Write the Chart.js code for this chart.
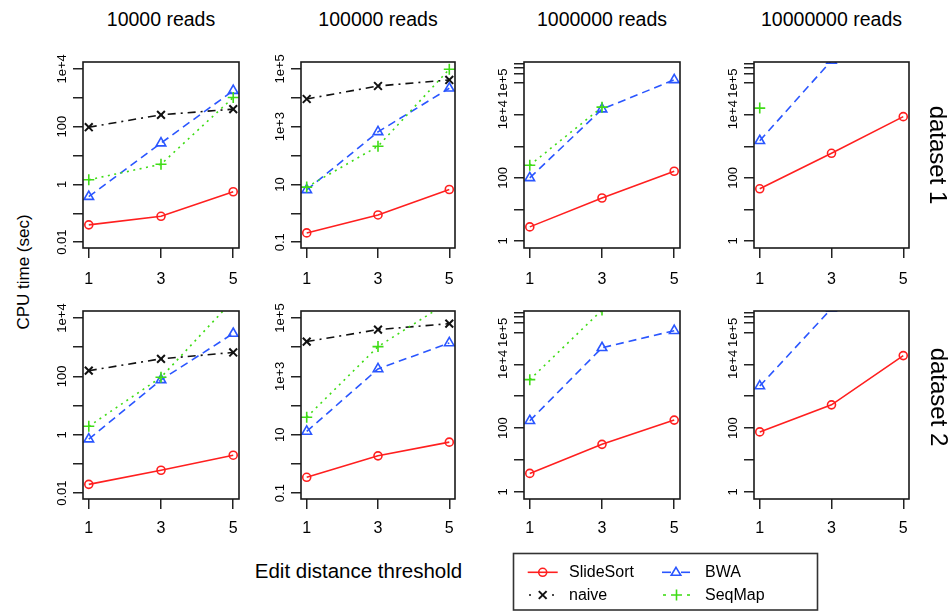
<!DOCTYPE html>
<html><head><meta charset="utf-8">
<script src="https://cdn.jsdelivr.net/npm/chart.js@4.4.1/dist/chart.umd.min.js"></script>
<style>
html,body{margin:0;padding:0;background:#fff;}
body{width:951px;height:612px;position:relative;overflow:hidden;font-family:"Liberation Sans",Arial,sans-serif;color:#000;}
canvas{position:absolute;}
.lbl{position:absolute;white-space:nowrap;line-height:1;transform:translate(-50%,-50%);}
.lg{position:absolute;white-space:nowrap;line-height:1;transform:translateY(-50%);font-size:16px;}
</style></head><body>
<script>
// ---------------- data ----------------
const thresholds = [1, 3, 5];
const readCounts = ["10000 reads", "100000 reads", "1000000 reads", "10000000 reads"];
const datasetNames = ["dataset 1", "dataset 2"];
const methodNames = ["SlideSort", "naive", "BWA", "SeqMap"];

// CPU time (sec); one entry per read count, values at thresholds 1, 3, 5
const slideSort1 = [[0.04, 0.079, 0.56], [0.21, 0.88, 6.7], [2.8, 23, 162], [45, 600, 8700]];
const naive1     = [[96, 258, 405], [9100, 25700, 41500], [null, null, null], [null, null, null]];
const bwa1       = [[0.38, 27, 1770], [6.5, 660, 21400], [100, 15000, 127000], [1500, 520000, null]];
const seqMap1    = [[1.45, 5, 1030], [8.1, 210, 98000], [250, 17400, null], [16200, null, null]];

const slideSort2 = [[0.02, 0.061, 0.2], [0.35, 1.9, 5.6], [3.8, 31, 178], [76, 535, 18700]];
const naive2     = [[157, 400, 660], [15600, 40000, 64000], [null, null, null], [null, null, null]];
const bwa2       = [[0.71, 76, 2950], [13, 1800, 14000], [170, 33000, 113000], [2080, 560000, null]];
const seqMap2    = [[1.95, 93, 41000], [40, 10500, 365000], [3300, 500000, null], [null, null, null]];

// y tick values and labels per column
const yTicks1 = [0.01, 0.1, 1, 10, 100, 1000, 10000];
const yLabels1 = ["0.01", "", "1", "", "100", "", "1e+4"];
const yTicks2 = [0.1, 1, 10, 100, 1000, 10000, 100000];
const yLabels2 = ["0.1", "", "10", "", "1e+3", "", "1e+5"];
const yTicks3 = [1, 10, 100, 1000, 10000, 100000, 200000, 300000, 400000];
const yLabels3 = ["1", "", "100", "", "1e+4", "1e+5", "", "", ""];
const yTicksByCol = [yTicks1, yTicks2, yTicks3, yTicks3];
const yLabelsByCol = [yLabels1, yLabels2, yLabels3, yLabels3];
const yMinExp = [-2.2, -1.2, -0.19, -0.19];
const yMaxExp = [4.24, 5.24, 5.67, 5.67];

// ---------------- layout ----------------
const FONT = '"Liberation Sans", Arial, sans-serif';
const YFONT = 13;
const colL = [83, 301, 524, 754], colR = [239, 455, 680, 909];
const rowT = [62, 311], rowB = [248, 499];
const xPad = [12.4, 9.7];
const PADL = 10, PADR = 16, PADT = 22, PADB = 8, YW = 40, XH = 45;

const mctx = document.createElement('canvas').getContext('2d');
mctx.font = YFONT + 'px ' + FONT;
const widest = mctx.measureText('1e+4').width;
const yPad = 21 - 10 - widest / 2;

const styles = [
  {rows: [slideSort1, slideSort2], color: "#ff1f1f", dash: [], pstyle: "circle", r: 4, bw: 1.6, order: 4},
  {rows: [naive1, naive2], color: "#111111", dash: [8, 5, 2, 5], pstyle: "crossRot", r: 5.5, bw: 1.6, order: 3},
  {rows: [bwa1, bwa2], color: "#2a56ff", dash: [8, 5], pstyle: "triangle", r: 5.5, bw: 1.6, order: 2},
  {rows: [seqMap1, seqMap2], color: "#3fdc16", dash: [2, 4.5], pstyle: "cross", r: 5.5, bw: 1.6, order: 1}
];

const boxPlugin = {
  id: 'box',
  afterDatasetsDraw(chart) {
    const {ctx, chartArea: a} = chart;
    ctx.save();
    ctx.strokeStyle = '#1a1a1a';
    ctx.lineWidth = 1.6;
    ctx.strokeRect(a.left, a.top, a.right - a.left, a.bottom - a.top);
    ctx.restore();
  }
};

function addLabel(text, x, y, size, rot) {
  const d = document.createElement('div');
  d.className = 'lbl';
  d.textContent = text;
  d.style.left = x + 'px';
  d.style.top = y + 'px';
  d.style.fontSize = size + 'px';
  if (rot) d.style.transform = 'translate(-50%,-50%) rotate(' + rot + 'deg)';
  document.body.appendChild(d);
}

for (let row = 0; row < 2; row++) {
  for (let col = 0; col < 4; col++) {
    const L = colL[col], R = colR[col], T = rowT[row], B = rowB[row];
    const cv = document.createElement('canvas');
    const w = R - L + PADL + YW + PADR, h = B - T + PADT + XH + PADB;
    cv.width = w; cv.height = h;
    cv.style.left = (L - PADL - YW) + 'px';
    cv.style.top = (T - PADT) + 'px';
    cv.style.width = w + 'px'; cv.style.height = h + 'px';
    document.body.appendChild(cv);

    const datasets = styles.map((s, i) => ({
      label: methodNames[i],
      data: thresholds.map((t, k) => ({x: t, y: s.rows[row][col][k]})),
      borderColor: s.color,
      borderWidth: s.bw,
      borderDash: s.dash,
      pointStyle: s.pstyle,
      pointRadius: s.r,
      pointBorderColor: s.color,
      pointBackgroundColor: 'rgba(0,0,0,0)',
      pointBorderWidth: i === 1 ? 2 : 1.6,
      fill: false,
      tension: 0,
      order: s.order
    }));

    const ticksY = yTicksByCol[col], labelsY = yLabelsByCol[col];
    new Chart(cv, {
      type: 'line',
      data: {datasets},
      plugins: [boxPlugin],
      options: {
        responsive: false, animation: false, devicePixelRatio: 1, events: [],
        layout: {padding: {left: PADL, right: PADR, top: PADT, bottom: PADB}},
        plugins: {legend: {display: false}, tooltip: {enabled: false}},
        scales: {
          x: {
            type: 'linear', min: 0.84, max: 5.16,
            afterBuildTicks: s => { s.ticks = thresholds.map(v => ({value: v})); },
            afterFit: s => { s.height = XH; },
            grid: {drawOnChartArea: false, drawTicks: true, tickLength: 10, color: '#222', lineWidth: 1.5},
            border: {display: false},
            ticks: {autoSkip: false, minRotation: 0, maxRotation: 0, padding: xPad[row], color: '#000',
                    font: {family: FONT, size: 16}, callback: v => String(v)}
          },
          y: {
            type: 'logarithmic', min: Math.pow(10, yMinExp[col]), max: Math.pow(10, yMaxExp[col]),
            afterBuildTicks: s => { s.ticks = ticksY.map(v => ({value: v})); },
            afterFit: s => { s.width = YW; },
            grid: {drawOnChartArea: false, drawTicks: true, tickLength: 10, color: '#222', lineWidth: 1.5},
            border: {display: false},
            ticks: {autoSkip: false, minRotation: 90, maxRotation: 90, crossAlign: 'center', padding: yPad,
                    color: '#000', font: {family: FONT, size: YFONT},
                    callback: v => {
                      const i = ticksY.findIndex(t => Math.abs(t - v) / t < 1e-6);
                      return i >= 0 ? labelsY[i] : '';
                    }}
          }
        }
      }
    });
  }
}

// titles and axis labels
for (let col = 0; col < 4; col++) addLabel(readCounts[col], (colL[col] + colR[col]) / 2, 20, 19.5);
addLabel(datasetNames[0], 937.5, 155, 24, 90);
addLabel(datasetNames[1], 939, 397, 24, 90);
addLabel("CPU time (sec)", 22.5, 271.5, 17, -90);
addLabel("Edit distance threshold", 358.5, 571, 20.5);

// legend
const lg = document.createElementNS('http://www.w3.org/2000/svg', 'svg');
lg.setAttribute('width', '330'); lg.setAttribute('height', '70');
lg.style.position = 'absolute'; lg.style.left = '505px'; lg.style.top = '545px';
lg.innerHTML =
  '<rect x="8.5" y="8.5" width="304" height="56.5" fill="none" stroke="#333" stroke-width="1.6"/>' +
  '<line x1="22.7" y1="27.3" x2="52.7" y2="27.3" stroke="#ff1f1f" stroke-width="1.6"/>' +
  '<circle cx="37.7" cy="27.3" r="4" fill="none" stroke="#ff1f1f" stroke-width="1.6"/>' +
  '<line x1="24" y1="50" x2="26" y2="50" stroke="#111" stroke-width="1.6"/>' +
  '<line x1="47" y1="50" x2="49" y2="50" stroke="#111" stroke-width="1.6"/>' +
  '<path d="M33.8 46.1 L41.6 53.9 M41.6 46.1 L33.8 53.9" stroke="#111" stroke-width="2"/>' +
  '<line x1="157" y1="27.3" x2="166" y2="27.3" stroke="#2a56ff" stroke-width="1.6"/>' +
  '<line x1="176" y1="27.3" x2="185" y2="27.3" stroke="#2a56ff" stroke-width="1.6"/>' +
  '<path d="M171 22.3 L175.8 30.3 L166.2 30.3 Z" fill="none" stroke="#2a56ff" stroke-width="1.6"/>' +
  '<line x1="158" y1="50" x2="161" y2="50" stroke="#3fdc16" stroke-width="1.6"/>' +
  '<line x1="182" y1="50" x2="185" y2="50" stroke="#3fdc16" stroke-width="1.6"/>' +
  '<path d="M171.5 44.5 L171.5 55.5 M166 50 L177 50" stroke="#3fdc16" stroke-width="1.6"/>';
document.body.appendChild(lg);
const lgText = [[methodNames[0], 569, 572.3], [methodNames[2], 705, 572.3], [methodNames[1], 569, 595], [methodNames[3], 705, 595]];
lgText.forEach(([t, x, y]) => {
  const d = document.createElement('div');
  d.className = 'lg'; d.textContent = t; d.style.left = x + 'px'; d.style.top = y + 'px';
  document.body.appendChild(d);
});
</script>
</body></html>
